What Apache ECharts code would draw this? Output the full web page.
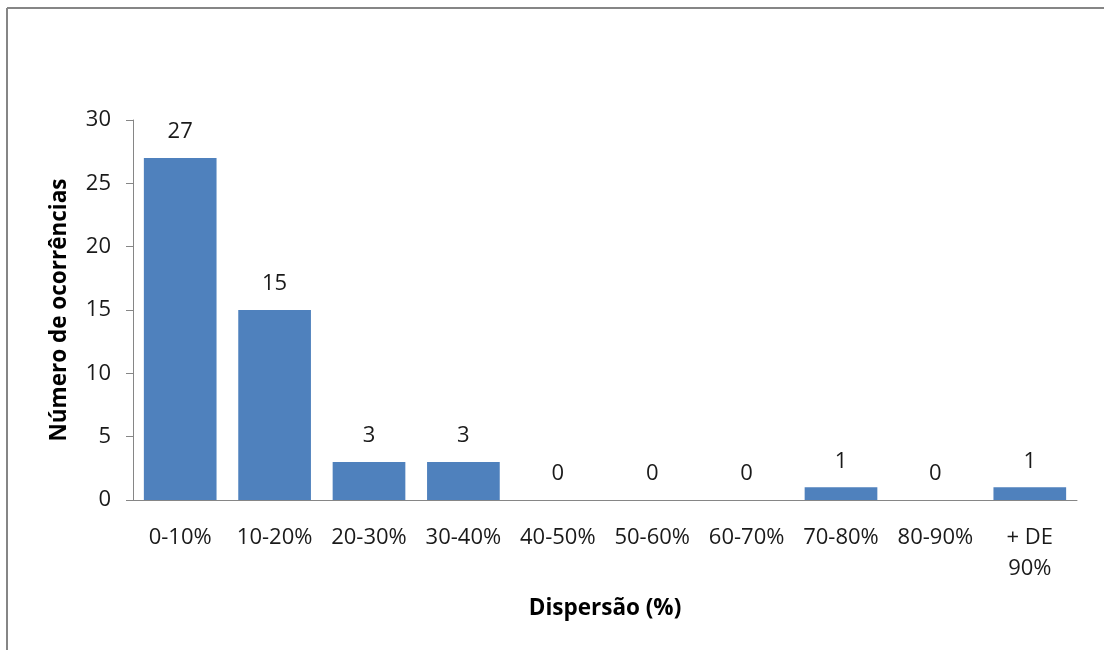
<!DOCTYPE html>
<html>
<head>
<meta charset="utf-8">
<script src="https://cdn.jsdelivr.net/npm/echarts@6/dist/echarts.min.js"></script>
<style>
  html, body { margin: 0; padding: 0; background: #fff; }
  #chart { width: 1104px; height: 650px; }
</style>
</head>
<body>
<div id="chart"></div>
<script>
// Dispersion ranges and how many occurrences fall into each
const categories = ['0-10%', '10-20%', '20-30%', '30-40%', '40-50%', '50-60%', '60-70%', '70-80%', '80-90%', '+ DE\n90%'];
const occurrences = [27, 15, 3, 3, 0, 0, 0, 1, 0, 1];
const yTicks = { min: 0, max: 30, interval: 5 };

const FONT = '"Open Sans", "Noto Sans", "Liberation Sans", sans-serif';
const chart = echarts.init(document.getElementById('chart'), null, { renderer: 'canvas' });

chart.setOption({
  animation: false,
  backgroundColor: '#ffffff',
  graphic: [
    // outer frame (left and top edges)
    { type: 'line', shape: { x1: 7, y1: 8, x2: 1104, y2: 8 }, style: { stroke: '#868686', lineWidth: 2 } },
    { type: 'line', shape: { x1: 7, y1: 8, x2: 7, y2: 650 }, style: { stroke: '#868686', lineWidth: 2 } }
  ],
  grid: { left: 133, top: 120, right: 27, bottom: 150, containLabel: false },
  xAxis: {
    type: 'category',
    data: categories,
    name: 'Dispersão (%)',
    nameLocation: 'middle',
    nameGap: 97,
    nameTextStyle: { fontFamily: FONT, fontWeight: 'bold', fontSize: 22.5, color: '#000' },
    axisLine: { lineStyle: { color: '#868686', width: 1 } },
    axisTick: { show: false },
    axisLabel: { fontFamily: FONT, fontSize: 22, color: '#1a1a1a', margin: 22, lineHeight: 31, interval: 0 }
  },
  yAxis: {
    type: 'value',
    min: yTicks.min,
    max: yTicks.max,
    interval: yTicks.interval,
    name: 'Número de ocorrências',
    nameLocation: 'middle',
    nameGap: 62,
    nameTextStyle: { fontFamily: FONT, fontWeight: 'bold', fontSize: 22.5, color: '#000' },
    axisLine: { show: true, lineStyle: { color: '#868686', width: 1 } },
    axisTick: { show: true, length: 7, lineStyle: { color: '#868686' } },
    axisLabel: { fontFamily: FONT, fontSize: 22, color: '#1a1a1a', margin: 22 },
    splitLine: { show: false }
  },
  series: [{
    type: 'bar',
    data: occurrences,
    barCategoryGap: '23%',
    itemStyle: { color: '#4F81BD' },
    label: {
      show: true,
      position: 'top',
      distance: 15,
      fontFamily: FONT,
      fontSize: 22,
      color: '#1a1a1a'
    }
  }]
});
</script>
</body>
</html>
